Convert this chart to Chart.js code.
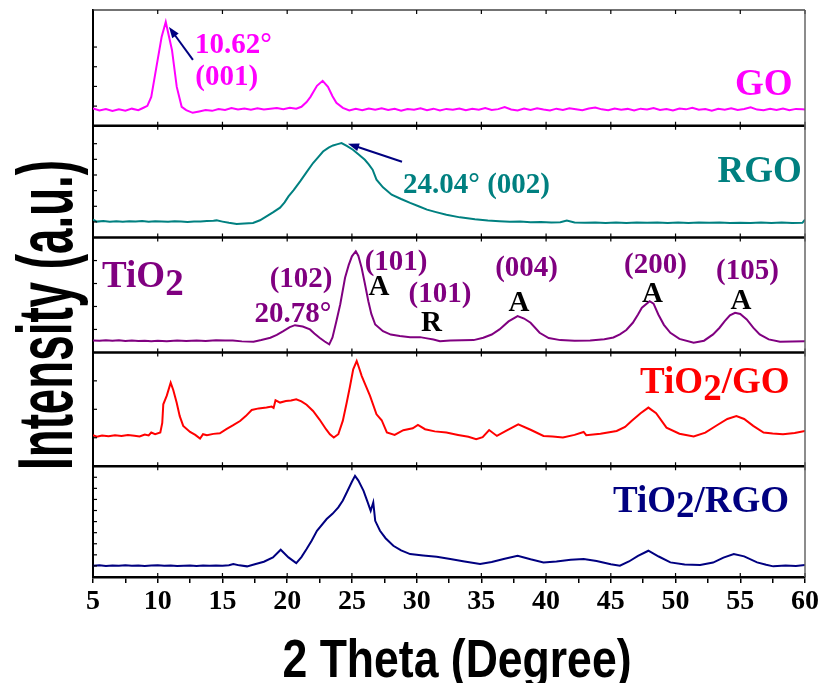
<!DOCTYPE html>
<html>
<head>
<meta charset="utf-8">
<title>XRD patterns</title>
<script src="https://cdn.jsdelivr.net/npm/chart.js"></script>
<style>
  html, body { margin: 0; padding: 0; background: #fff; }
  #wrap { width: 822px; height: 683px; position: relative; }
</style>
</head>
<body>
<div id="wrap"><canvas id="xrd"></canvas></div>
<script>
// 2 theta axis
const xTicks = [5, 10, 15, 20, 25, 30, 35, 40, 45, 50, 55, 60];

// intensity (a.u.), every panel scaled 0-100
const goData = [
  [5, 15.0], [5.5, 13.2], [6, 14.5], [6.5, 12.8], [7, 14.2], [7.5, 13.0], [8, 14.8], [8.5, 13.5],
  [8.9, 15.6], [9.2, 17.2], [9.5, 25.0], [9.9, 50.9], [10.3, 76.7], [10.62, 89.7], [11.1, 65.5], [11.47, 33.6],
  [11.85, 16.4], [12.2, 13.5], [12.7, 11.2], [13.2, 12.4], [13.7, 13.6], [14.2, 12.9], [14.7, 14.4], [15.2, 13.7],
  [15.7, 15.3], [16.2, 14.1], [16.7, 15.0], [17.2, 13.9], [17.7, 15.2], [18.2, 14.0], [18.7, 14.8], [19.2, 15.4],
  [19.7, 14.3], [20.2, 15.6], [20.7, 14.7], [21.1, 16.4], [21.5, 20.5], [21.8, 25.0], [22.3, 34.5], [22.74, 38.8],
  [23.15, 33.6], [23.5, 25.5], [23.8, 19.8], [24.3, 15.5], [24.8, 13.2], [25.3, 14.6], [25.8, 13.4], [26.3, 14.9],
  [26.8, 13.8], [27.3, 15.1], [27.8, 13.6], [28.3, 14.7], [28.8, 13.1], [29.3, 14.5], [29.8, 13.9], [30.3, 15.2],
  [30.8, 13.5], [31.3, 14.8], [31.8, 13.3], [32.3, 14.6], [32.8, 13.9], [33.3, 15.0], [33.8, 13.4], [34.3, 14.7],
  [34.8, 13.8], [35.3, 15.3], [35.8, 13.6], [36.3, 14.4], [36.8, 16.2], [37.3, 14.1], [37.8, 13.2], [38.3, 14.9],
  [38.8, 13.7], [39.3, 15.2], [39.8, 14.0], [40.3, 13.3], [40.8, 14.8], [41.3, 13.6], [41.8, 15.1], [42.3, 14.3],
  [42.8, 13.5], [43.3, 14.9], [43.8, 15.8], [44.3, 14.2], [44.8, 13.4], [45.3, 15.0], [45.8, 13.9], [46.3, 14.6],
  [46.8, 13.2], [47.3, 14.8], [47.8, 14.1], [48.3, 15.4], [48.8, 13.7], [49.3, 14.5], [49.8, 13.3], [50.3, 14.9],
  [50.8, 14.2], [51.3, 15.6], [51.8, 13.8], [52.3, 14.4], [52.8, 13.1], [53.3, 14.7], [53.8, 13.9], [54.3, 15.2],
  [54.8, 13.6], [55.3, 14.5], [55.8, 15.9], [56.3, 14.0], [56.8, 13.5], [57.3, 14.8], [57.8, 13.7], [58.3, 15.0],
  [58.8, 13.4], [59.3, 14.6], [59.8, 14.2], [60, 14.0]
];

const rgoData = [
  [5, 16.1], [5.3, 14.3], [5.8, 14.8], [6.3, 14.2], [6.8, 14.7], [7.3, 14.1], [7.8, 14.6], [8.3, 14.3],
  [8.8, 14.8], [9.3, 14.2], [9.8, 14.7], [10.3, 14.4], [10.8, 14.1], [11.3, 14.6], [11.8, 14.3], [12.3, 14.0],
  [12.8, 14.4], [13.3, 14.5], [13.8, 14.9], [14.3, 15.1], [14.55, 15.4], [15.0, 14.3], [15.5, 13.2], [16.1, 12.2],
  [16.7, 12.6], [17.36, 13.1], [17.9, 15.5], [18.4, 19.0], [18.9, 22.5], [19.45, 26.8], [19.8, 31.5], [20.1, 36.9],
  [20.5, 42.5], [21.0, 50.3], [21.5, 58.5], [22.0, 66.7], [22.4, 72.0], [22.77, 77.0], [23.2, 80.5], [23.54, 82.4],
  [23.9, 83.6], [24.2, 84.6], [24.6, 82.0], [25.08, 78.6], [25.5, 74.5], [26.0, 69.6], [26.3, 65.5], [26.6, 60.7],
  [26.9, 51.8], [27.4, 45.0], [28.07, 38.4], [28.8, 34.5], [29.5, 31.0], [30.2, 27.8], [30.8, 25.0], [31.5, 22.8],
  [32.3, 20.5], [33.35, 18.1], [34.5, 16.4], [35.5, 15.3], [36.4, 14.6], [37.2, 14.1], [38.0, 14.3], [38.8, 13.7],
  [39.6, 13.9], [40.4, 13.4], [41.1, 13.8], [41.6, 15.2], [42.2, 13.5], [43.0, 13.2], [43.8, 13.6], [44.6, 13.1],
  [45.4, 13.5], [46.2, 13.0], [47.0, 13.4], [47.8, 13.2], [48.6, 13.6], [49.4, 13.1], [50.2, 13.4], [51.0, 13.0],
  [51.8, 13.5], [52.6, 13.2], [53.4, 13.6], [54.2, 13.0], [55.0, 13.3], [55.8, 13.1], [56.6, 13.5], [57.4, 13.0],
  [58.2, 13.4], [59.0, 13.1], [59.8, 13.2], [60, 16.1]
];

const tio2Data = [
  [5, 10.4], [5.5, 10.1], [6, 10.6], [6.5, 10.2], [7, 10.5], [7.5, 10.0], [8, 10.3], [8.5, 9.9],
  [9, 10.2], [9.5, 9.8], [10, 10.1], [10.7, 9.8], [11.5, 10.3], [12.2, 9.9], [13, 10.4], [13.7, 10.0],
  [14.5, 10.6], [15.2, 10.3], [15.8, 10.4], [16.5, 9.6], [17.4, 9.3], [18.0, 10.8], [18.7, 12.8], [19.2, 15.2],
  [19.7, 18.5], [20.2, 22.0], [20.6, 23.7], [21.2, 22.5], [21.76, 20.0], [22.1, 16.5], [22.5, 12.8], [22.9, 9.5],
  [23.25, 7.0], [23.5, 13.0], [23.8, 27.2], [24.1, 42.0], [24.47, 65.0], [24.75, 76.0], [25.0, 83.7], [25.3, 88.1],
  [25.5, 84.0], [25.75, 73.7], [26.0, 60.0], [26.27, 44.6], [26.5, 33.5], [26.8, 24.3], [27.4, 18.5], [28.0, 15.5],
  [28.7, 14.2], [29.5, 13.2], [30.26, 13.3], [30.8, 12.2], [31.3, 11.3], [31.8, 9.8], [32.6, 10.3], [33.5, 10.6],
  [34.4, 10.7], [35.15, 12.8], [35.8, 15.6], [36.4, 20.0], [37.1, 27.0], [37.8, 31.6], [38.3, 29.5], [38.8, 25.8],
  [39.5, 17.1], [40.2, 12.5], [41.1, 10.7], [42.2, 10.2], [43.4, 10.4], [44.5, 11.5], [45.2, 13.0], [45.7, 15.7],
  [46.2, 19.5], [46.7, 25.8], [47.1, 33.0], [47.4, 38.9], [48.0, 44.6], [48.3, 42.5], [48.67, 33.0], [49.1, 24.0],
  [49.6, 17.1], [50.3, 11.8], [51.4, 8.4], [52.2, 10.2], [52.9, 15.7], [53.4, 21.5], [53.8, 27.2], [54.2, 32.2],
  [54.6, 34.5], [55.0, 33.5], [55.5, 28.7], [56.0, 21.5], [56.5, 15.7], [57.2, 11.3], [58.07, 9.3], [59.0, 9.6],
  [60, 9.8]
];

const tio2GoData = [
  [5, 27.2], [5.3, 26.0], [5.7, 27.0], [6.2, 26.4], [6.7, 27.1], [7.2, 26.6], [7.7, 27.4], [8.2, 26.8],
  [8.6, 26.1], [9.0, 27.9], [9.3, 27.0], [9.5, 29.6], [9.8, 28.2], [10.2, 29.6], [10.35, 38.0], [10.43, 54.4],
  [10.7, 62.0], [11.0, 73.4], [11.2, 67.0], [11.46, 55.9], [11.7, 44.0], [11.97, 35.4], [12.5, 30.1], [12.9, 27.5],
  [13.27, 24.3], [13.5, 28.1], [13.8, 27.2], [14.3, 28.4], [14.8, 28.9], [15.3, 32.5], [15.8, 35.8], [16.36, 39.7],
  [16.8, 44.0], [17.26, 49.4], [17.8, 50.8], [18.4, 51.5], [18.8, 52.4], [18.95, 51.2], [19.1, 57.9], [19.45, 55.9],
  [19.9, 57.2], [20.3, 57.8], [20.7, 58.8], [21.1, 57.0], [21.5, 54.0], [22.0, 48.5], [22.5, 41.0], [23.0, 32.5],
  [23.3, 28.0], [23.6, 25.2], [23.95, 28.1], [24.3, 40.0], [24.6, 55.9], [24.85, 70.0], [25.1, 85.1], [25.37, 92.4],
  [25.55, 86.5], [25.76, 79.2], [26.1, 70.0], [26.4, 61.7], [26.9, 45.6], [27.3, 40.4], [27.7, 29.6], [28.3, 27.5],
  [28.97, 31.6], [29.7, 33.3], [30.1, 36.2], [30.65, 32.5], [31.4, 30.6], [32.3, 29.6], [33.2, 27.5], [34.0, 25.8],
  [34.6, 23.7], [35.1, 25.5], [35.6, 31.8], [36.2, 26.6], [36.9, 31.0], [37.85, 36.8], [38.8, 32.0], [39.8, 26.6],
  [40.5, 26.0], [41.3, 25.2], [42.2, 27.5], [42.9, 30.1], [43.1, 27.2], [44.2, 28.5], [45.45, 31.0], [46.1, 34.5],
  [46.6, 39.7], [47.3, 46.5], [47.9, 51.5], [48.5, 46.5], [49.3, 33.9], [50.3, 28.5], [51.4, 26.1], [52.3, 29.5],
  [53.2, 36.0], [54.0, 41.5], [54.7, 44.1], [55.3, 41.5], [56.0, 35.4], [56.8, 29.6], [57.5, 28.7], [58.3, 28.1],
  [59.2, 29.2], [60, 31.0]
];

const tio2RgoData = [
  [5, 10.2], [5.5, 10.5], [6, 10.0], [6.5, 10.4], [7, 10.1], [7.5, 10.6], [8, 10.2], [8.5, 10.4],
  [9, 9.9], [9.5, 10.3], [10, 10.5], [10.5, 10.1], [11, 10.3], [11.5, 9.9], [12, 10.2], [12.5, 10.4],
  [13, 10.0], [13.5, 10.3], [14, 10.1], [14.5, 10.4], [15, 10.2], [15.5, 10.6], [15.84, 11.7], [16.3, 10.5],
  [16.9, 9.6], [17.5, 11.5], [18.2, 13.8], [18.9, 17.7], [19.5, 24.6], [20.1, 17.7], [20.7, 12.6], [21.1, 18.0],
  [21.5, 25.2], [21.9, 33.0], [22.3, 41.7], [23.05, 52.3], [23.5, 57.0], [23.95, 62.8], [24.3, 69.0], [24.6, 76.3],
  [25.0, 86.0], [25.24, 91.3], [25.5, 87.0], [25.9, 77.7], [26.2, 68.0], [26.45, 59.7], [26.65, 67.3], [26.8, 50.7],
  [27.17, 41.7], [27.6, 35.0], [28.2, 28.2], [28.8, 24.0], [29.5, 20.7], [30.5, 19.5], [31.55, 18.3], [32.6, 16.2],
  [33.7, 14.0], [34.9, 11.7], [35.8, 13.5], [36.8, 16.5], [37.8, 19.2], [38.8, 16.0], [39.8, 13.2], [40.8, 14.0],
  [41.9, 15.5], [42.9, 16.2], [43.9, 14.5], [45.0, 11.5], [45.7, 10.2], [46.4, 14.0], [47.1, 19.0], [47.9, 23.7],
  [48.7, 18.5], [49.6, 13.2], [50.7, 11.2], [51.9, 10.8], [52.9, 13.0], [53.7, 17.5], [54.5, 20.7], [55.3, 18.6],
  [56.3, 13.2], [57.0, 11.0], [57.55, 9.6], [58.5, 10.4], [59.3, 10.0], [60, 10.8]
];

// one stacked panel per sample, top to bottom
const panels = [
  { id: 'yGO', name: 'GO', data: goData, color: '#ff00ff', h: 116, step: 17 },
  { id: 'yRGO', name: 'RGO', data: rgoData, color: '#008080', h: 112, step: 14 },
  { id: 'yTiO2', name: 'TiO2', data: tio2Data, color: '#800080', h: 115, step: 20 },
  { id: 'yTiGO', name: 'TiO2/GO', data: tio2GoData, color: '#ff0000', h: 114, step: 25 },
  { id: 'yTiRGO', name: 'TiO2/RGO', data: tio2RgoData, color: '#000080', h: 111, step: 10 }
];

// text on the panels: x in degrees, y in the panel's units
const notes = [
  { axis: 'yGO', x: 12.88, y: 62.9, parts: [['10.62°', 0]], color: '#ff00ff' },
  { axis: 'yGO', x: 12.9, y: 35.3, parts: [['(001)', 0]], color: '#ff00ff' },
  { axis: 'yGO', x: 54.6, y: 26.7, parts: [['GO', 0]], color: '#ff00ff', big: true },
  { axis: 'yRGO', x: 28.95, y: 40.2, parts: [['24.04° (002)', 0]], color: '#008080' },
  { axis: 'yRGO', x: 53.25, y: 50.0, parts: [['RGO', 0]], color: '#008080', big: true },
  { axis: 'yTiO2', x: 5.7, y: 57.4, parts: [['TiO', 0], ['2', 8]], color: '#800080', big: true },
  { axis: 'yTiO2', x: 21.07, y: 57.4, parts: [['(102)', 0]], color: '#800080', center: true },
  { axis: 'yTiO2', x: 20.45, y: 26.1, parts: [['20.78°', 0]], color: '#800080', center: true },
  { axis: 'yTiO2', x: 28.41, y: 72.2, parts: [['(101)', 0]], color: '#800080', center: true },
  { axis: 'yTiO2', x: 27.09, y: 50.4, parts: [['A', 0]], color: '#000', center: true },
  { axis: 'yTiO2', x: 31.8, y: 43.5, parts: [['(101)', 0]], color: '#800080', center: true },
  { axis: 'yTiO2', x: 31.15, y: 18.3, parts: [['R', 0]], color: '#000', center: true },
  { axis: 'yTiO2', x: 38.49, y: 66.4, parts: [['(004)', 0]], color: '#800080', center: true },
  { axis: 'yTiO2', x: 37.91, y: 35.7, parts: [['A', 0]], color: '#000', center: true },
  { axis: 'yTiO2', x: 48.45, y: 69.3, parts: [['(200)', 0]], color: '#800080', center: true },
  { axis: 'yTiO2', x: 48.22, y: 44.3, parts: [['A', 0]], color: '#000', center: true },
  { axis: 'yTiO2', x: 55.56, y: 63.5, parts: [['(105)', 0]], color: '#800080', center: true },
  { axis: 'yTiO2', x: 55.06, y: 37.4, parts: [['A', 0]], color: '#000', center: true },
  { axis: 'yTiGO', x: 47.26, y: 64.0, parts: [['TiO', 0], ['2', 7], ['/GO', 0]], color: '#ff0000', big: true },
  { axis: 'yTiRGO', x: 45.17, y: 58.6, parts: [['TiO', 0], ['2', 5], ['/RGO', 0]], color: '#000080', big: true }
];

// arrows pointing at the carbon peaks, head at (x2, y2)
const arrows = [
  { axis: 'yGO', x1: 12.72, y1: 56.9, x2: 10.87, y2: 85.3 },
  { axis: 'yRGO', x1: 28.87, y1: 67.9, x2: 24.70, y2: 83.9 }
];

const serif = '"Liberation Serif", "Times New Roman", serif';

const frames = {
  id: 'frames',
  afterDraw(chart) {
    const { ctx, chartArea: a, scales } = chart;
    const xs = scales.x;
    ctx.save();
    panels.forEach((p, i) => {
      const s = scales[p.id];
      ctx.strokeStyle = i === 0 ? '#444' : '#000';
      ctx.lineWidth = i === 0 ? 1.5 : 2.5;
      ctx.beginPath();
      ctx.moveTo(a.left, s.top);
      ctx.lineTo(a.right, s.top);
      ctx.stroke();
      ctx.strokeStyle = '#000';
      ctx.lineWidth = 1.2;
      xTicks.forEach(v => {
        const px = xs.getPixelForValue(v);
        ctx.beginPath();
        ctx.moveTo(px, s.top);
        ctx.lineTo(px, s.top + 4);
        ctx.moveTo(px, s.bottom);
        ctx.lineTo(px, s.bottom - 4);
        ctx.stroke();
      });
      s.ticks.forEach(t => {
        if (t.value <= s.min || t.value >= s.max) return;
        const py = s.getPixelForValue(t.value);
        ctx.beginPath();
        ctx.moveTo(a.left, py);
        ctx.lineTo(a.left + 4, py);
        ctx.stroke();
      });
    });
    // right edge of the frame
    ctx.strokeStyle = '#666';
    ctx.lineWidth = 1.5;
    ctx.beginPath();
    ctx.moveTo(a.right, a.top);
    ctx.lineTo(a.right, a.bottom);
    ctx.stroke();
    ctx.restore();
  }
};

const labels = {
  id: 'labels',
  afterDraw(chart) {
    const { ctx, scales } = chart;
    const xs = scales.x;
    ctx.save();
    ctx.textBaseline = 'alphabetic';
    notes.forEach(n => {
      ctx.font = 'bold ' + (n.big ? 37 : 29) + 'px ' + serif;
      ctx.fillStyle = n.color;
      let w = 0;
      n.parts.forEach(pt => { w += ctx.measureText(pt[0]).width; });
      let px = xs.getPixelForValue(n.x);
      const py = scales[n.axis].getPixelForValue(n.y);
      if (n.center) px -= w / 2;
      n.parts.forEach(pt => {
        ctx.fillText(pt[0], px, py + pt[1]);
        px += ctx.measureText(pt[0]).width;
      });
    });
    ctx.strokeStyle = '#000080';
    ctx.fillStyle = '#000080';
    ctx.lineWidth = 2;
    arrows.forEach(ar => {
      const ys = scales[ar.axis];
      const x1 = xs.getPixelForValue(ar.x1), y1 = ys.getPixelForValue(ar.y1);
      const x2 = xs.getPixelForValue(ar.x2), y2 = ys.getPixelForValue(ar.y2);
      const ang = Math.atan2(y2 - y1, x2 - x1);
      ctx.beginPath();
      ctx.moveTo(x1, y1);
      ctx.lineTo(x2 - 8 * Math.cos(ang), y2 - 8 * Math.sin(ang));
      ctx.stroke();
      ctx.beginPath();
      ctx.moveTo(x2, y2);
      ctx.lineTo(x2 - 11 * Math.cos(ang) + 4 * Math.sin(ang), y2 - 11 * Math.sin(ang) - 4 * Math.cos(ang));
      ctx.lineTo(x2 - 11 * Math.cos(ang) - 4 * Math.sin(ang), y2 - 11 * Math.sin(ang) + 4 * Math.cos(ang));
      ctx.closePath();
      ctx.fill();
    });
    ctx.restore();
  }
};

// axis titles, squeezed like in the original figure
const titles = {
  id: 'titles',
  afterDraw(chart) {
    const ctx = chart.ctx;
    ctx.save();
    ctx.fillStyle = '#000';
    ctx.textAlign = 'center';
    ctx.textBaseline = 'alphabetic';
    ctx.font = 'bold 54px "Liberation Sans", Arial, sans-serif';
    let w = ctx.measureText('2 Theta (Degree)').width;
    ctx.translate(457, 677);
    ctx.scale(349 / w, 1);
    ctx.fillText('2 Theta (Degree)', 0, 0);
    ctx.restore();

    ctx.save();
    ctx.fillStyle = '#000';
    ctx.textAlign = 'center';
    ctx.textBaseline = 'alphabetic';
    ctx.font = 'bold 78px "Liberation Sans", Arial, sans-serif';
    w = ctx.measureText('Intensity (a.u.)').width;
    ctx.translate(72, 315);
    ctx.rotate(-Math.PI / 2);
    ctx.scale(310 / w, 1);
    ctx.fillText('Intensity (a.u.)', 0, 0);
    ctx.restore();
  }
};

const yScales = {};
panels.forEach((p, i) => {
  yScales[p.id] = {
    type: 'linear',
    position: 'left',
    stack: 'xrd',
    stackWeight: p.h,
    weight: panels.length - i,
    min: 0,
    max: 100,
    grid: { display: false, drawTicks: false },
    border: { display: true, color: '#000', width: 2 },
    ticks: { display: false, stepSize: p.step },
    afterFit: s => { s.width = 0; }
  };
});

new Chart(document.getElementById('xrd'), {
  type: 'line',
  data: {
    datasets: panels.map(p => ({
      label: p.name,
      data: p.data.map(d => ({ x: d[0], y: d[1] })),
      yAxisID: p.id,
      borderColor: p.color,
      borderWidth: 2,
      pointRadius: 0,
      tension: 0
    }))
  },
  options: {
    responsive: true,
    maintainAspectRatio: false,
    animation: false,
    layout: { padding: { left: 93, right: 17, top: 10, bottom: 0 } },
    plugins: { legend: { display: false }, tooltip: { enabled: false } },
    scales: Object.assign({
      x: {
        type: 'linear',
        position: 'bottom',
        min: 5,
        max: 60,
        grid: { drawOnChartArea: false, drawTicks: true, tickLength: 6, color: '#000', lineWidth: 1.5 },
        border: { color: '#000', width: 2.5 },
        ticks: {
          stepSize: 2.5,
          autoSkip: false,
          maxRotation: 0,
          padding: 2,
          color: '#000',
          font: { family: serif, size: 28, weight: 'bold' },
          callback: v => (v % 5 === 0 ? v : '')
        },
        afterFit: s => { s.height = 106; }
      }
    }, yScales)
  },
  plugins: [frames, labels, titles]
});
</script>
</body>
</html>
